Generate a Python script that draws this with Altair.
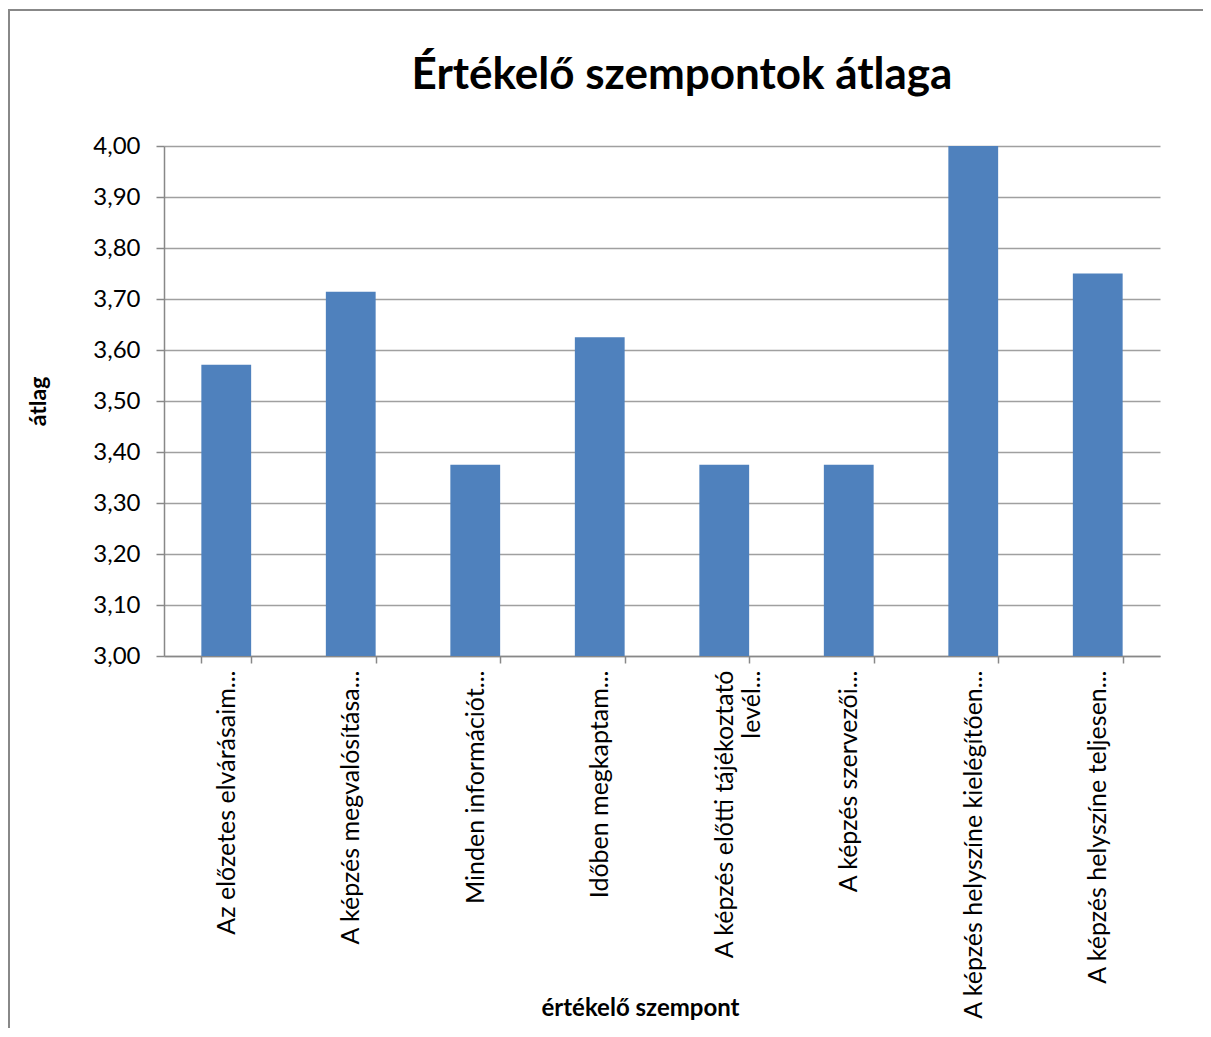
import altair as alt
import pandas as pd

categories = [
    "Az előzetes elvárásaim...",
    "A képzés megvalósítása...",
    "Minden információt...",
    "Időben megkaptam...",
    "A képzés előtti tájékoztató|levél...",
    "A képzés szervezői...",
    "A képzés helyszíne kielégítően...",
    "A képzés helyszíne teljesen...",
]
values = [3.571, 3.714, 3.375, 3.625, 3.375, 3.375, 4.00, 3.75]
y_ticks = [3.00, 3.10, 3.20, 3.30, 3.40, 3.50, 3.60, 3.70, 3.80, 3.90, 4.00]

df = pd.DataFrame({"szempont": categories, "atlag": values})

FONT = "Lato"

bars = alt.Chart(df).mark_bar(color="#4F81BD").encode(
    x=alt.X(
        "szempont:N",
        sort=categories,
        scale=alt.Scale(paddingInner=0.6, paddingOuter=0.3),
        axis=alt.Axis(
            title="értékelő szempont",
            titleX=476,
            titleY=340,
            titleBaseline="top",
            titleAlign="center",
            titleFont=FONT,
            titleFontSize=24,
            titleFontWeight="bold",
            titleColor="#000000",
            labelAngle=-90,
            labelFont=FONT,
            labelFontSize=25,
            labelColor="#000000",
            labelLimit=500,
            labelOverlap=False,
            labelPadding=7,
            labelExpr="split(datum.label, '|')",
            tickBand="extent",
            tickSize=7,
            tickColor="#888888",
            tickWidth=1.5,
            domainColor="#888888",
            domainWidth=1.5,
            grid=False,
        ),
    ),
    y=alt.Y(
        "atlag:Q",
        scale=alt.Scale(domain=[3, 4], nice=False, zero=False),
        axis=alt.Axis(
            title="átlag",
            titleX=-126,
            titleY=255,
            titleAngle=-90,
            titleAlign="center",
            titleBaseline="middle",
            titleFont=FONT,
            titleFontSize=23,
            titleFontWeight="bold",
            titleColor="#000000",
            values=y_ticks,
            labelExpr="replace(format(datum.value, '.2f'), '.', ',')",
            labelFont=FONT,
            labelFontSize=24,
            labelColor="#000000",
            labelPadding=16,
            tickSize=8,
            tickColor="#888888",
            tickWidth=1.5,
            domainColor="#888888",
            domainWidth=1.5,
            grid=True,
            gridColor="#a0a0a0",
            gridWidth=1.5,
        ),
    ),
    y2=alt.datum(3.0),
)

frame = alt.Chart(pd.DataFrame({"f": [0]})).mark_rect(
    fill="transparent", stroke="#888888", strokeWidth=2
).encode(
    x=alt.value(-155),
    x2=alt.value(1060),
    y=alt.value(-136),
    y2=alt.value(900),
)

chart = alt.layer(frame, bars).properties(
    width=996,
    height=510,
    padding={"left": 156, "top": 138, "right": 43, "bottom": 372},
    autosize=alt.AutoSizeParams(type="none"),
    title=alt.TitleParams(
        "Értékelő szempontok átlaga",
        font=FONT,
        fontSize=44,
        fontWeight="bold",
        color="#000000",
        anchor="middle",
        dx=20,
        offset=-124,
        baseline="alphabetic",
    ),
).configure_view(stroke="transparent")

chart.save("out.html", embed_options={"renderer": "svg", "actions": False})
